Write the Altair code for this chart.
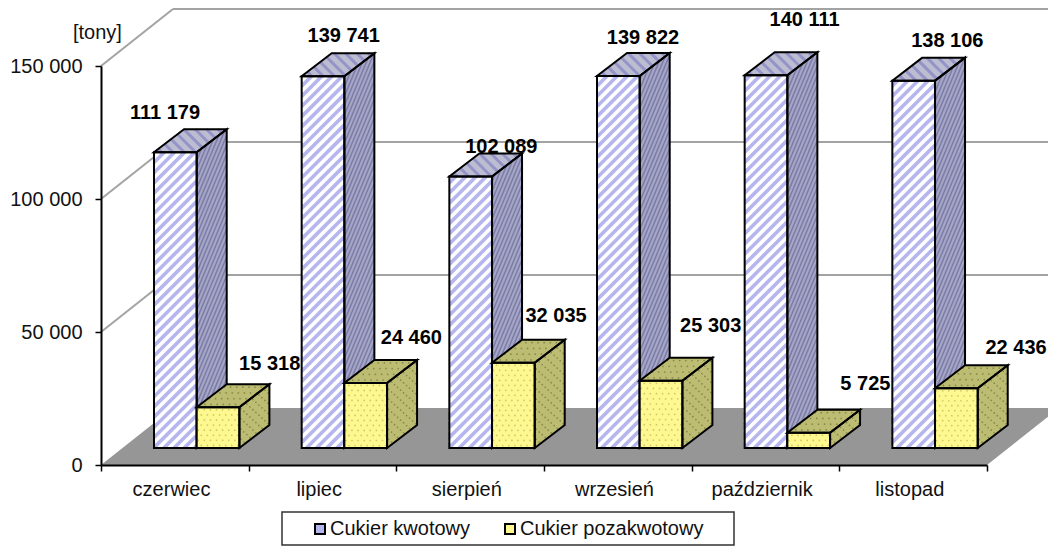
import math
import altair as alt
import pandas as pd

months = ["czerwiec", "lipiec", "sierpień", "wrzesień", "październik", "listopad"]
kwotowy = [111179, 139741, 102089, 139822, 140111, 138106]
pozakwotowy = [15318, 24460, 32035, 25303, 5725, 22436]
series = ["Cukier kwotowy", "Cukier pozakwotowy"]
y_ticks = [0, 50000, 100000, 150000]

# label nudges relative to the top-left of each bar (px right, px up)
label_kw = [(11, 39), (42, 40), (52, 29), (46, 38), (60, 55), (55, 40)]
label_po = [(73, 43), (67, 45), (64, 47), (71, 55), (78, 49), (81, 40)]

W, H = 886, 399
SX = W / 6                # px per category
SY = H / 150000           # px per unit of value
FONT = "Liberation Sans"

wall_dx, wall_dy = 72 / SX, 57 / SY
bar_off, bar_w = 53 / SX, 42.7 / SX
bar_dx, bar_dy = 30 / SX, 23 / SY
base = 17 / SY


def faces(i, v, s):
    x0 = i + bar_off + s * bar_w
    x1 = x0 + bar_w
    b, t = base, base + v
    return {
        "front": [(x0, b), (x1, b), (x1, t), (x0, t)],
        "side": [(x1, b), (x1 + bar_dx, b + bar_dy), (x1 + bar_dx, t + bar_dy), (x1, t)],
        "top": [(x0, t), (x1, t), (x1 + bar_dx, t + bar_dy), (x0 + bar_dx, t + bar_dy)],
    }


def hatch(poly, n, period):
    """Clip a family of parallel lines (px normal n) to a convex face."""
    norm = math.hypot(*n)
    nx, ny = n[0] / norm, n[1] / norm
    p = [(x * SX, y * SY) for x, y in poly]
    s = [a * nx + b * ny for a, b in p]
    rows = []
    c = math.ceil(min(s) / period) * period
    while c < max(s):
        hits = []
        for k in range(len(p)):
            a, b = s[k], s[(k + 1) % len(p)]
            if (a - c) * (b - c) < 0:
                t = (c - a) / (b - a)
                q0, q1 = p[k], p[(k + 1) % len(p)]
                hits.append((q0[0] + t * (q1[0] - q0[0]), q0[1] + t * (q1[1] - q0[1])))
        if len(hits) == 2:
            rows.append({"x": hits[0][0] / SX, "y": hits[0][1] / SY,
                         "x2": hits[1][0] / SX, "y2": hits[1][1] / SY})
        c += period
    return rows


def dots(poly, nu, nv):
    """Regular dither grid over a parallelogram (p0 origin, p1 u edge, p3 v edge)."""
    (ax, ay), (bx, by), _, (dx, dy) = poly
    rows = []
    for j in range(nv):
        for k in range(nu):
            u = (k + (0.25 if j % 2 else 0.75)) / nu
            v = (j + 0.5) / nv
            rows.append({"x": ax + u * (bx - ax) + v * (dx - ax),
                         "y": ay + u * (by - ay) + v * (dy - ay)})
    return rows


x_scale = alt.Scale(domain=[0, 6], nice=False, zero=False)
y_scale = alt.Scale(domain=[0, 150000], nice=False, zero=False)
X = alt.X("x:Q", scale=x_scale, title=None)
Y = alt.Y("y:Q", scale=y_scale, title=None)
color_scale = alt.Scale(domain=series, range=["#b6b6ef", "#fdf88f"])


def poly_layer(kind, s, fill=None, stroke=False):
    rows = []
    for i, v in enumerate(kwotowy if s == 0 else pozakwotowy):
        f = faces(i, v, s)
        if kind == "side":
            a, b, c, d = f["side"]
            rows += [{"id": i, "x": a[0], "y": a[1], "y2": d[1]},
                     {"id": i, "x": b[0], "y": b[1], "y2": c[1]}]
        else:
            a, b, c, d = f["top"]
            rows += [{"id": i, "y": a[1], "x": a[0], "x2": b[0]},
                     {"id": i, "y": d[1], "x": d[0], "x2": c[0]}]
    kw = dict(fillOpacity=0, stroke="black", strokeWidth=2, strokeJoin="miter") if stroke else dict(fill=fill)
    d = pd.DataFrame(rows)
    if kind == "side":
        return alt.Chart(d).mark_area(**kw).encode(
            x=X, y=alt.Y("y:Q", scale=y_scale, title=None, stack=None), y2="y2:Q", detail="id:N")
    return alt.Chart(d).mark_area(orient="horizontal", **kw).encode(
        y=Y, x=alt.X("x:Q", scale=x_scale, title=None, stack=None), x2="x2:Q", detail="id:N")


def front_layer(s, stroke=False):
    vals = kwotowy if s == 0 else pozakwotowy
    rows = []
    for i, v in enumerate(vals):
        f = faces(i, v, s)["front"]
        rows.append({"x": f[0][0], "x2": f[1][0], "y": f[0][1], "y2": f[2][1], "series": series[s]})
    d = pd.DataFrame(rows)
    if stroke:
        return alt.Chart(d).mark_rect(fillOpacity=0, stroke="black", strokeWidth=2).encode(
            x=X, x2="x2:Q", y=Y, y2="y2:Q")
    return alt.Chart(d).mark_rect().encode(
        x=X, x2="x2:Q", y=Y, y2="y2:Q",
        color=alt.Color("series:N", scale=color_scale, title=None))


def rules(rows, color, width):
    return alt.Chart(pd.DataFrame(rows)).mark_rule(color=color, strokeWidth=width).encode(
        x=X, x2="x2:Q", y=Y, y2="y2:Q")


def pts(rows, color, size):
    return alt.Chart(pd.DataFrame(rows)).mark_circle(color=color, size=size, opacity=0.8).encode(x=X, y=Y)


# hatch / dither rows
h_front, h_side, h_top = [], [], []
for i, v in enumerate(kwotowy):
    f = faces(i, v, 0)
    h_front += hatch(f["front"], (1, -1), 7.2)
    h_side += hatch(f["side"], (2.4, -1), 3.6)
    h_top += hatch(f["top"], (1, 1), 8.0)
d_front, d_side, d_top = [], [], []
for i, v in enumerate(pozakwotowy):
    f = faces(i, v, 1)
    nv = max(1, round(v * SY / 5))
    d_front += dots(f["front"], 7, nv)
    d_side += dots(f["side"], 5, nv)
    d_top += dots(f["top"], 7, 4)

# walls and floor
grid_rows = []
for t in y_ticks[1:]:
    grid_rows.append({"x": 0, "y": t, "x2": wall_dx, "y2": t + wall_dy})
    grid_rows.append({"x": wall_dx, "y": t + wall_dy, "x2": 6 + wall_dx, "y2": t + wall_dy})
floor = pd.DataFrame([{"y": 0, "x": 0, "x2": 6},
                      {"y": wall_dy, "x": wall_dx, "x2": 6 + wall_dx}])

# value labels
lab_rows = []
for s, (vals, nudge) in enumerate([(kwotowy, label_kw), (pozakwotowy, label_po)]):
    for i, v in enumerate(vals):
        tl = faces(i, v, s)["front"][3]
        lab_rows.append({"x": tl[0] + nudge[i][0] / SX, "y": tl[1] + nudge[i][1] / SY,
                         "t": f"{v:,}".replace(",", " ")})

unit_label = pd.DataFrame([{"x": -28 / SX, "y": 150000 + 33 / SY, "t": "[tony]"}])

# frame round the legend
legend_box = pd.DataFrame([{"x": 181 / SX, "x2": 633 / SX, "y": -47 / SY, "y2": -80 / SY}])

# the layer that owns the axes
axis_layer = alt.Chart(pd.DataFrame({"x": [0], "y": [0]})).mark_point(opacity=0).encode(
    x=alt.X("x:Q", scale=x_scale, title=None, axis=alt.Axis(
        values=list(range(7)), grid=False, domainColor="black", domainWidth=2,
        tickColor="black", tickWidth=1.5, tickSize=6, labelFont=FONT, labelFontSize=20,
        labelColor="#111111", labelOffset=70, labelPadding=8, labelOverlap=False, labelFlush=False,
        labelExpr="[" + ",".join(f"'{m}'" for m in months) + ",''][datum.value]", zindex=1)),
    y=alt.Y("y:Q", scale=y_scale, title=None, axis=alt.Axis(
        values=y_ticks, grid=False, domainColor="black", domainWidth=2,
        tickColor="black", tickWidth=1.5, tickSize=6, labelFont=FONT, labelFontSize=20,
        labelColor="#111111", labelPadding=13, zindex=1,
        labelExpr="replace(format(datum.value, ','), ',', ' ')")),
)

chart = alt.layer(
    alt.Chart(floor).mark_area(orient="horizontal", fill="#969696").encode(
        y=Y, x=alt.X("x:Q", scale=x_scale, title=None, stack=None), x2="x2:Q"),
    rules(grid_rows, "#a3a3a3", 2),
    axis_layer,
    poly_layer("side", 0, "#a6a6c6"),
    poly_layer("top", 0, "#bdbdd2"),
    front_layer(0),
    rules(h_front, "white", 3.6),
    rules(h_side, "#7c7ca8", 1.5),
    rules(h_top, "#9494c8", 3),
    poly_layer("side", 0, stroke=True),
    poly_layer("top", 0, stroke=True),
    front_layer(0, stroke=True),
    poly_layer("side", 1, "#bcbc72"),
    poly_layer("top", 1, "#bcbc72"),
    front_layer(1),
    pts(d_front, "#c9bb5c", 3),
    pts(d_side, "#7d7d3e", 3),
    pts(d_top, "#7d7d3e", 3),
    poly_layer("side", 1, stroke=True),
    poly_layer("top", 1, stroke=True),
    front_layer(1, stroke=True),
    alt.Chart(pd.DataFrame(lab_rows)).mark_text(
        font=FONT, fontSize=20, fontWeight="bold", color="black").encode(x=X, y=Y, text="t:N"),
    alt.Chart(unit_label).mark_text(
        font=FONT, fontSize=20, color="#111111", align="left").encode(x=X, y=Y, text="t:N"),
    alt.Chart(legend_box).mark_rect(fill="white", stroke="#333333", strokeWidth=1.5).encode(
        x=X, x2="x2:Q", y=Y, y2="y2:Q"),
).resolve_scale(color="shared").configure_legend(
    orient="none", legendX=209, legendY=453, direction="horizontal", columns=2,
    padding=0, zindex=1,
    labelFont=FONT, labelFontSize=20, labelColor="#111111", labelLimit=300,
    symbolType="square", symbolSize=100, symbolStrokeColor="black", symbolStrokeWidth=2,
    columnPadding=29, labelOffset=0,
).configure_view(stroke=None).properties(
    width=W, height=H, autosize="none",
    padding={"left": 93, "top": 58, "right": 61, "bottom": 81},
    background="white",
)

chart.save("out.html", embed_options={"renderer": "svg", "actions": False})
